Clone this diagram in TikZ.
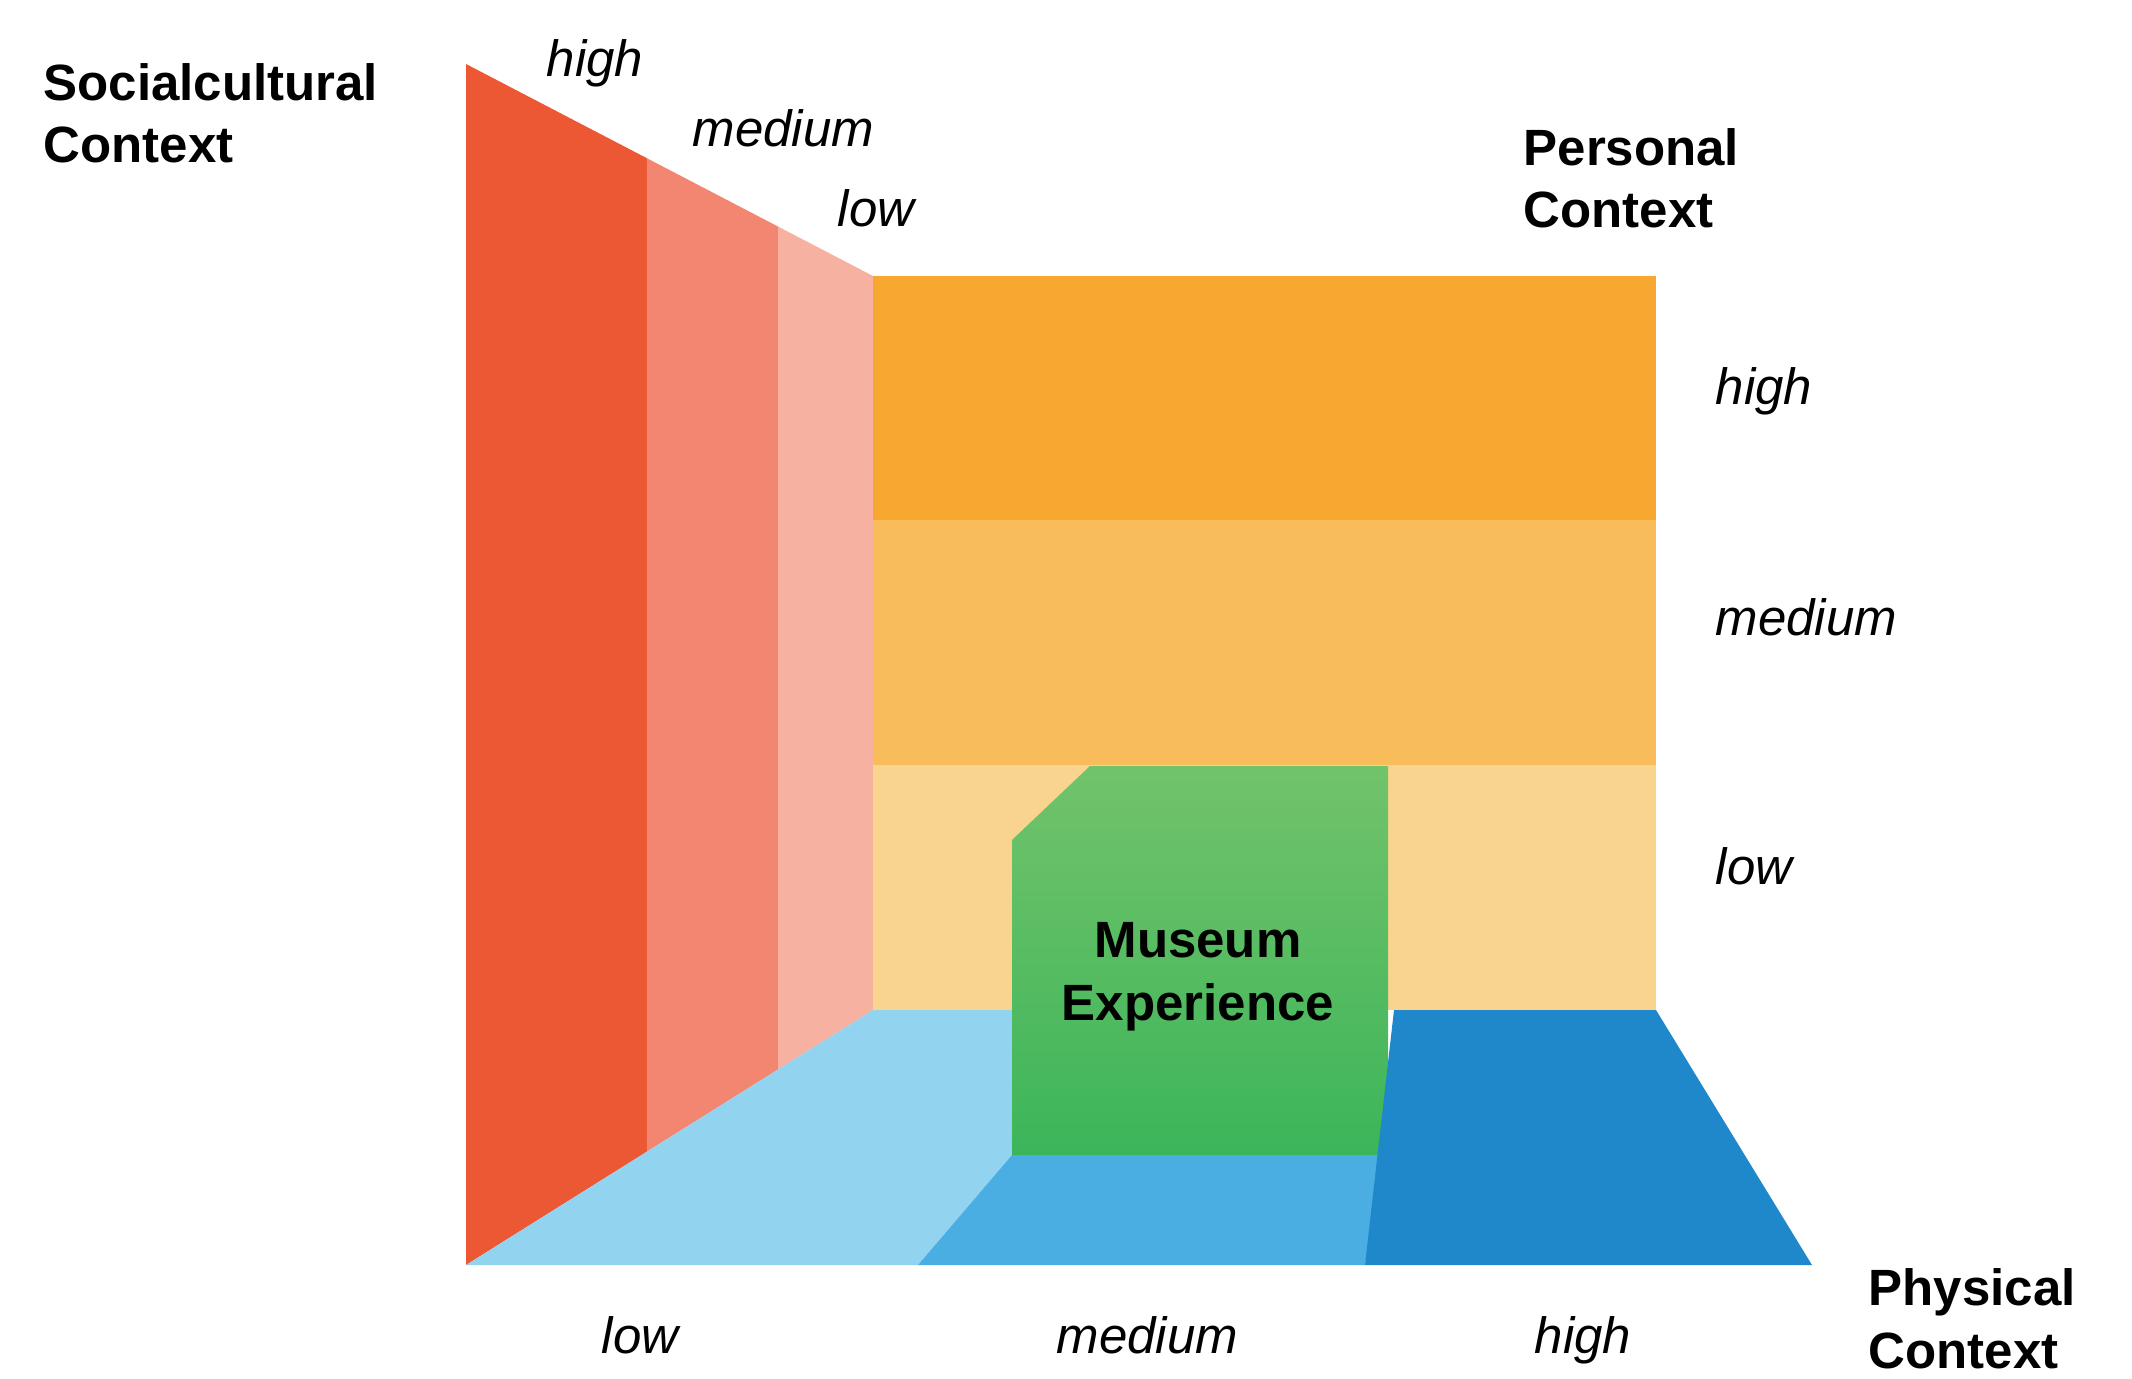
\documentclass[tikz,border=0pt]{standalone}
\usepackage{fontspec}
\setmainfont{Liberation Sans}
\usepackage{tikz}
\usetikzlibrary{calc}

\definecolor{socHigh}{HTML}{EC5834}
\definecolor{socMed}{HTML}{F28670}
\definecolor{socLow}{HTML}{F6B1A1}
\definecolor{perHigh}{HTML}{F7A830}
\definecolor{perMed}{HTML}{F8BD5A}
\definecolor{perLow}{HTML}{F9D48E}
\definecolor{phyLow}{HTML}{92D3F0}
\definecolor{phyMed}{HTML}{4AAEE3}
\definecolor{phyHigh}{HTML}{1E88CB}
\definecolor{expTop}{HTML}{72C36A}
\definecolor{expBot}{HTML}{3CB55A}

\begin{document}
\begin{tikzpicture}[x=0.01cm, y=-0.01cm,
    level/.style={inner sep=0pt, anchor=base west, font=\itshape\fontsize{14.5pt}{17.9pt}\selectfont},
    context/.style={inner sep=0pt, anchor=base west, align=left, font=\bfseries\fontsize{14.5pt}{17.9pt}\selectfont}]
            \useasboundingbox (0,0) rectangle (2132,1379);

            % corners of the two walls
            \coordinate (st) at (466,64);
            \coordinate (sb) at (466,1265);
            \coordinate (ct) at (873,276);
            \coordinate (cb) at (873,1010);

            % socialcultural wall
            \fill[socHigh] (st) -- ($(st)!0.4447!(ct)$) -- ($(sb)!0.4447!(cb)$) -- (sb) -- cycle;
            \fill[socMed] ($(st)!0.4447!(ct)$) -- ($(st)!0.7666!(ct)$) -- ($(sb)!0.7666!(cb)$) -- ($(sb)!0.4447!(cb)$) -- cycle;
            \fill[socLow] ($(st)!0.7666!(ct)$) -- (ct) -- (cb) -- ($(sb)!0.7666!(cb)$) -- cycle;

            % personal wall
            \fill[perHigh] (873,276) rectangle (1656,520);
            \fill[perMed] (873,520) rectangle (1656,765);
            \fill[perLow] (873,765) rectangle (1656,1010);

            % physical floor
            \fill[phyLow] (sb) -- (cb) -- (1012,1010) -- (1012,1155) -- (918,1265) -- cycle;
            \shade[top color=expTop, bottom color=expBot] (1090,766) -- (1388,766) -- (1388,1155) -- (1012,1155) -- (1012,840) -- cycle;
            \fill[phyMed] (1012,1155) -- (1382,1155) -- (1365,1265) -- (918,1265) -- cycle;
            \fill[phyHigh] (1394,1010) -- (1656,1010) -- (1812,1265) -- (1365,1265) -- cycle;

            % multi-line nodes sit on the baseline of their last line
            \node[context, anchor=base, align=center] (exp) at (1198,1020) {Museum\\Experience};

            % axis titles
            \node[context] (soc) at (43,163) {Socialcultural\\Context};
            \node[context] (per) at (1523,228) {Personal\\Context};
            \node[context] (phy) at (1868,1368) {Physical\\Context};

            % levels
            \node[level] (sochigh) at (546,77) {high};
            \node[level] (socmed) at (692,147) {medium};
            \node[level] (soclow) at (837,227) {low};

            \node[level] (perhigh) at (1715,405) {high};
            \node[level] (permed) at (1715,636) {medium};
            \node[level] (perlow) at (1715,884) {low};

            \node[level] (phylow) at (601,1353) {low};
            \node[level] (phymed) at (1056,1353) {medium};
            \node[level] (phyhigh) at (1534,1353) {high};
        \end{tikzpicture}
\end{document}
